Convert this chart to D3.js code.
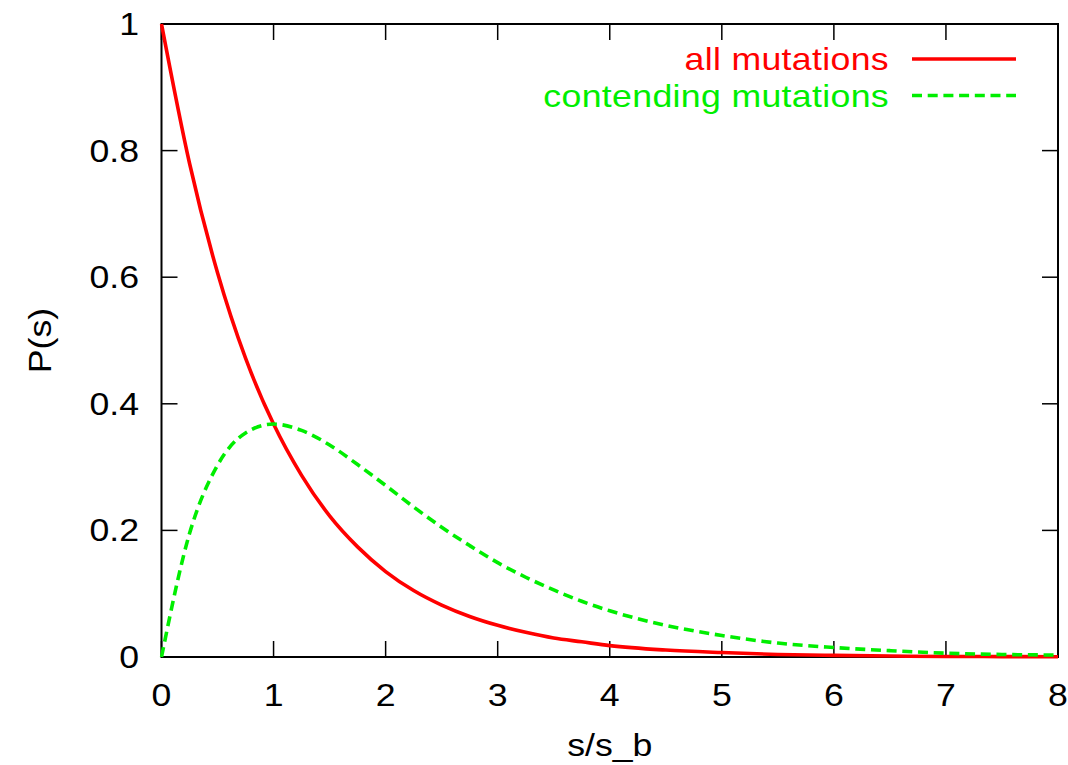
<!DOCTYPE html>
<html>
<head>
<meta charset="utf-8">
<script src="https://cdn.jsdelivr.net/npm/d3@7.9.0/dist/d3.min.js"></script>
<style>
  html, body { margin: 0; padding: 0; background: #fff; }
  text { font-family: "Liberation Sans", Arial, sans-serif; }
</style>
</head>
<body>
<svg id="chart" width="1068" height="765"></svg>
<script>
// values
const sValues = [0, 0.25, 0.5, 0.75, 1, 1.25, 1.5, 1.75, 2, 2.25, 2.5, 2.75, 3, 3.25, 3.5, 3.75, 4, 4.5, 5, 5.5, 6, 6.5, 7, 7.5, 8];
const allMutations = [1, 0.78, 0.607, 0.472, 0.368, 0.287, 0.223, 0.174, 0.135, 0.105, 0.082, 0.064, 0.05, 0.039, 0.030, 0.024, 0.018, 0.011, 0.007, 0.004, 0.0025, 0.0015, 0.0009, 0.0006, 0.0003];
const contendingMutations = [0, 0.195, 0.303, 0.354, 0.368, 0.358, 0.335, 0.304, 0.271, 0.237, 0.205, 0.176, 0.149, 0.126, 0.106, 0.088, 0.073, 0.050, 0.034, 0.022, 0.015, 0.010, 0.006, 0.004, 0.003];
const xTicks = [0, 1, 2, 3, 4, 5, 6, 7, 8];
const yTicks = [0, 0.2, 0.4, 0.6, 0.8, 1];
const seriesNames = ['all mutations', 'contending mutations'];

const margin = { left: 161.5, right: 1058, top: 24, bottom: 657 };
const svg = d3.select('#chart');
const x = d3.scaleLinear().domain([0, 8]).range([margin.left, margin.right]);
const y = d3.scaleLinear().domain([0, 1]).range([margin.bottom, margin.top]);

const stretch = 1.15;
function label(g, px, py, str, anchor, fill, spacing) {
  return g.append('text')
    .attr('transform', `translate(${px},${py}) scale(${stretch},1)`)
    .attr('text-anchor', anchor)
    .attr('font-size', 31)
    .attr('letter-spacing', spacing || 0)
    .attr('fill', fill || '#000')
    .text(str);
}

// ticks on all four sides, pointing inward
const tickLen = 16;
const ticks = svg.append('g').attr('stroke', '#000').attr('stroke-width', 1.5);
xTicks.forEach(t => {
  ticks.append('line').attr('x1', x(t)).attr('x2', x(t)).attr('y1', y(0)).attr('y2', y(0) - tickLen);
  ticks.append('line').attr('x1', x(t)).attr('x2', x(t)).attr('y1', y(1)).attr('y2', y(1) + tickLen);
  label(svg, x(t), 706, String(t), 'middle');
});
yTicks.forEach(t => {
  ticks.append('line').attr('x1', x(0)).attr('x2', x(0) + tickLen).attr('y1', y(t)).attr('y2', y(t));
  ticks.append('line').attr('x1', x(8)).attr('x2', x(8) - tickLen).attr('y1', y(t)).attr('y2', y(t));
  label(svg, 139, y(t) + 11, String(t), 'end');
});

// frame
svg.append('rect')
  .attr('x', x(0)).attr('y', y(1))
  .attr('width', x(8) - x(0)).attr('height', y(0) - y(1))
  .attr('fill', 'none').attr('stroke', '#000').attr('stroke-width', 2);

// axis titles
label(svg, (x(0) + x(8)) / 2, 756, 's/s_b', 'middle', '#000');
svg.append('text')
  .attr('transform', `translate(51,${(y(0) + y(1)) / 2}) rotate(-90) scale(${stretch},1)`)
  .attr('text-anchor', 'middle')
  .attr('font-size', 31)
  .text('P(s)');

// curves
svg.append('clipPath').attr('id', 'clip')
  .append('rect').attr('x', x(0) - 2).attr('y', y(1) - 2)
  .attr('width', x(8) - x(0) + 4).attr('height', y(0) - y(1) + 4);

const line = d3.line().x(d => x(d[0])).y(d => y(d[1])).curve(d3.curveMonotoneX);
const series = [
  { name: seriesNames[0], values: allMutations, color: '#ff0000', dash: null },
  { name: seriesNames[1], values: contendingMutations, color: '#00ee00', dash: '10,5.7' }
];

series.forEach((s, i) => {
  svg.append('path')
    .datum(sValues.map((v, j) => [v, s.values[j]]))
    .attr('clip-path', 'url(#clip)')
    .attr('d', line)
    .attr('fill', 'none')
    .attr('stroke', s.color)
    .attr('stroke-width', 3.6)
    .attr('stroke-dasharray', s.dash);

  // legend
  const ly = 59 + i * 36.5;
  label(svg, 889, ly + 11, s.name, 'end', s.color, 0.3);
  svg.append('line')
    .attr('x1', 912).attr('x2', 1016).attr('y1', ly).attr('y2', ly)
    .attr('stroke', s.color).attr('stroke-width', 3.6)
    .attr('stroke-dasharray', s.dash);
});
</script>
</body>
</html>
